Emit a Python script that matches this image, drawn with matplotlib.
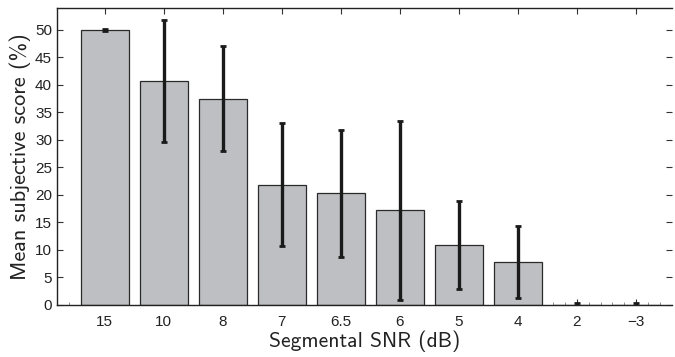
import matplotlib
matplotlib.use("Agg")
import matplotlib.pyplot as plt
import numpy as np

plt.rcParams["font.family"] = ["Liberation Sans", "DejaVu Sans"]

snr_labels = ["15", "10", "8", "7", "6.5", "6", "5", "4", "2", "\u22123"]
mean_score = [50.0, 40.7, 37.5, 21.9, 20.3, 17.2, 10.9, 7.8, 0.0, 0.0]
score_err = [0.15, 11.1, 9.5, 11.1, 11.5, 16.3, 8.0, 6.5, 0.3, 0.3]

fig = plt.figure(figsize=(6.75, 3.57), dpi=100)
ax = fig.add_axes([0.0844, 0.1457, 0.9112, 0.832])

x = np.arange(1, len(mean_score) + 1)
ax.bar(x, mean_score, width=0.81, color="#bebfc3", edgecolor="#2a2a2a",
       linewidth=0.9, zorder=2)
ax.errorbar(x, mean_score, yerr=score_err, fmt="none", ecolor="#1a1a1a",
            elinewidth=2.4, capsize=2.5, capthick=2.0, zorder=3)

ax.set_xlim(0.19, 10.61)
ax.set_ylim(0, 54)
ax.set_xticks(x)
ax.set_xticklabels(snr_labels)
ax.set_yticks(np.arange(0, 51, 5))
ax.tick_params(direction="in", top=True, right=True, labelsize=11,
               length=4, width=0.8, colors="#333333", labelcolor="#222222")
ax.tick_params(axis="x", pad=7)
ax.set_xticks(np.arange(0.4, 10.6, 0.2), minor=True)
ax.tick_params(axis="x", which="minor", direction="in", length=2,
               width=0.5, top=False, colors="#666666")
ax.spines["right"].set_visible(False)
for s in ("left", "top", "bottom"):
    ax.spines[s].set_linewidth(1.0)
    ax.spines[s].set_color("#222222")

ax.set_xlabel("Segmental SNR (dB)", fontsize=15.5, family=["cmss10", "DejaVu Sans"],
              color="#222222", labelpad=1)
ax.set_ylabel("Mean subjective score (%)", fontsize=16,
              family=["cmss10", "DejaVu Sans"], color="#222222", labelpad=3)

fig.savefig("out.png", dpi=100)
